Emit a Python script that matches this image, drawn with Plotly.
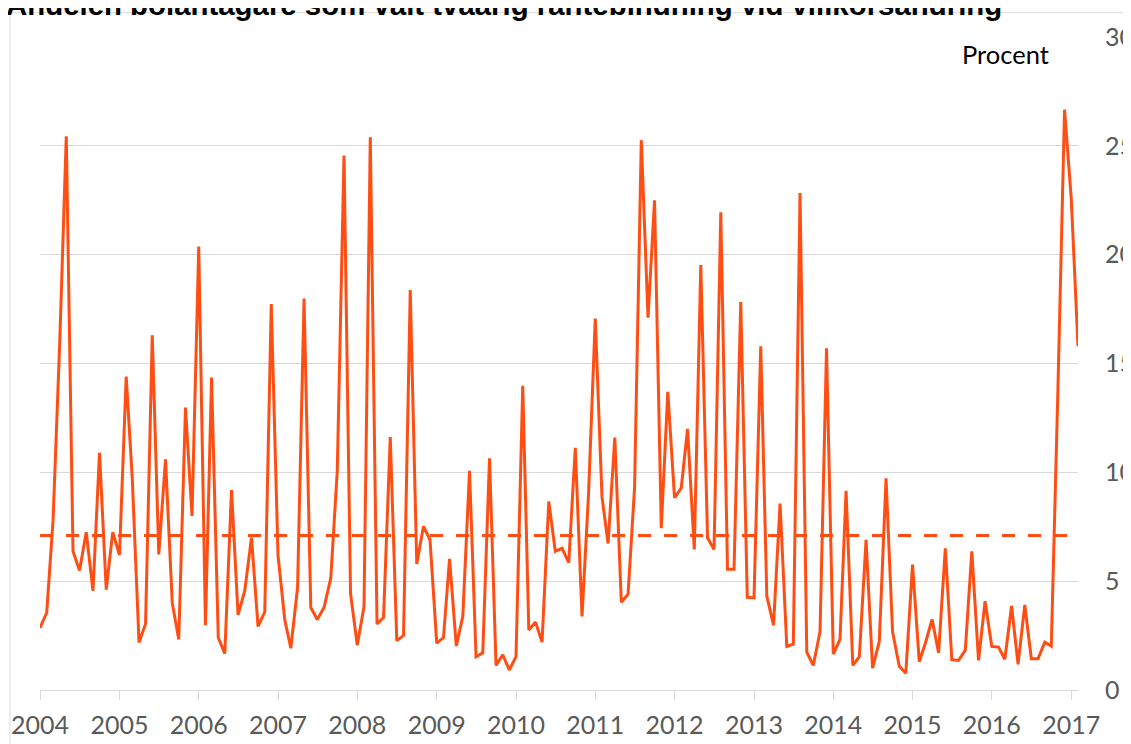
import pandas as pd
import plotly.graph_objects as go

# Monthly share (%) of borrowers choosing 2-year fixed rate, Jan 2004 - Feb 2017
start_month = "2004-01-01"
share_values = [
    2.85, 3.56, 7.78, 16.0, 25.44, 6.37, 5.49, 7.25, 4.56, 10.9, 4.61, 7.25,      # 2004
    6.2, 14.4, 9.7, 2.18, 3.03, 16.3, 6.23, 10.6, 4.0, 2.32, 12.98, 8.0,         # 2005
    20.37, 2.98, 14.35, 2.41, 1.67, 9.19, 3.45, 4.56, 7.0, 2.92, 3.59, 17.73,    # 2006
    6.2, 3.24, 1.92, 4.7, 17.99, 3.79, 3.24, 3.79, 5.14, 10.07, 24.56, 4.44,     # 2007
    2.06, 3.82, 25.39, 3.03, 3.33, 11.62, 2.27, 2.5, 18.38, 5.79, 7.52, 6.9,     # 2008
    2.15, 2.41, 6.02, 2.02, 3.38, 10.07, 1.53, 1.71, 10.65, 1.13, 1.62, 0.92,    # 2009
    1.53, 13.98, 2.76, 3.12, 2.2, 8.66, 6.37, 6.51, 5.85, 11.13, 3.38, 9.0,      # 2010
    17.06, 8.87, 6.73, 11.6, 4.03, 4.4, 9.3, 25.26, 17.1, 22.5, 7.43, 13.7,      # 2011
    8.84, 9.28, 12.0, 6.46, 19.52, 6.99, 6.46, 21.95, 5.55, 5.55, 17.82, 4.26,   # 2012
    4.23, 15.79, 4.31, 2.98, 8.56, 2.0, 2.1, 22.83, 1.74, 1.13, 2.68, 15.7,      # 2013
    1.65, 2.32, 9.15, 1.13, 1.53, 6.9, 1.0, 2.24, 9.72, 2.68, 1.09, 0.77,        # 2014
    5.76, 1.3, 2.15, 3.24, 1.71, 6.51, 1.39, 1.36, 1.83, 6.37, 1.36, 4.08,       # 2015
    2.0, 1.97, 1.41, 3.86, 1.18, 3.91, 1.44, 1.44, 2.2, 2.02, 14.0, 26.66,       # 2016
    22.57, 15.79,                                                                 # 2017
]
average_value = 7.1
year_labels = [str(y) for y in range(2004, 2018)]
y_ticks = [0, 5, 10, 15, 20, 25, 30]

title_text = "Andelen bolåntagare som valt tvåårig räntebindning vid villkorsändring"
unit_text = "Procent"

dates = pd.date_range(start_month, periods=len(share_values), freq="MS")
avg_series = [average_value] * len(share_values)

ORANGE = "#FF4E14"
GRID = "#D9D9D9"
TICKFONT = dict(family="Lato", size=25, color="#595959")

fig = go.Figure()
fig.add_trace(go.Scatter(
    x=dates, y=avg_series, mode="lines",
    line=dict(color=ORANGE, width=3, dash="13px,13px"),
    hoverinfo="skip", showlegend=False,
))
fig.add_trace(go.Scatter(
    x=dates, y=share_values, mode="lines",
    line=dict(color=ORANGE, width=3),
    showlegend=False,
))

# page has an 8px body margin; the figure is placed at (8, 8)
OFF = 8
W, H = 1123, 736
# target plot area on the page: x 40..1078, y 37..690
L, R, T, B = 40 - OFF, W - (1078 - OFF), 37 - OFF, H - (690 - OFF)
pw, ph = W - L - R, H - T - B

def px_x(page_x):
    return (page_x - OFF - L) / pw

def px_y(page_y):
    return (H - B - (page_y - OFF)) / ph

fig.update_layout(
    width=W, height=H,
    margin=dict(l=L, r=R, t=T, b=B, autoexpand=False),
    paper_bgcolor="white", plot_bgcolor="white",
    showlegend=False,
    xaxis=dict(
        range=[dates[0], dates[-1]],
        tickvals=pd.date_range("2004-01-01", periods=len(year_labels), freq="YS"),
        ticktext=year_labels,
        showgrid=False, zeroline=False,
        showline=True, linecolor=GRID, linewidth=1,
        ticks="outside", ticklen=9, tickcolor=GRID, tickwidth=1,
        tickfont=TICKFONT, ticklabelstandoff=4,
        automargin=False,
    ),
    yaxis=dict(
        side="right", range=[0, 30],
        tickvals=y_ticks, ticktext=[str(v) for v in y_ticks],
        showgrid=True, gridcolor=GRID, gridwidth=1,
        zeroline=False, showline=False, ticks="",
        tickfont=TICKFONT, ticklabelstandoff=26,
        automargin=False,
    ),
    shapes=[dict(
        type="rect", xref="paper", yref="paper",
        x0=px_x(10), x1=1.3, y0=-0.3, y1=px_y(12.7),
        line=dict(color=GRID, width=1), fillcolor="rgba(0,0,0,0)", layer="below",
    )],
    annotations=[
        dict(text=f"<b>{title_text}</b>", xref="paper", yref="paper",
             x=px_x(4), y=px_y(4), xanchor="left", yanchor="middle",
             showarrow=False,
             font=dict(family="Liberation Sans", size=29.4, color="black")),
        dict(text=unit_text, xref="paper", yref="paper",
             x=px_x(1051), y=px_y(54.5), xanchor="right", yanchor="middle",
             showarrow=False,
             font=dict(family="Lato", size=25.5, color="black")),
    ],
)

fig.write_html("out.html")
